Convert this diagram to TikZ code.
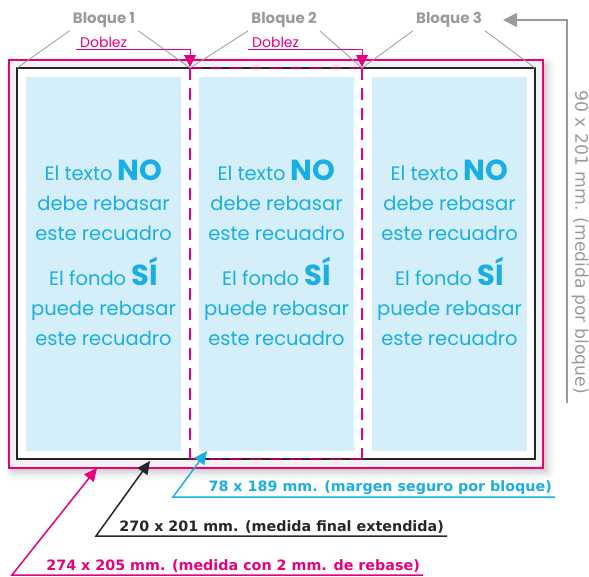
\documentclass[tikz,border=0pt]{standalone}
\usepackage{fontspec}
\setmainfont{DejaVu Sans}
\newfontfamily\redonda{Poppins}
\usetikzlibrary{arrows.meta,shadows.blur}

\definecolor{rosa}{HTML}{E6007E}
\definecolor{celeste}{HTML}{1AAEE6}
\definecolor{fondo}{HTML}{D4EEFA}
\definecolor{gris}{HTML}{9A9A9A}

\tikzstyle{bloque}=[font=\redonda\bfseries\fontsize{15}{15}\selectfont, text=gris, inner sep=3pt]
\tikzstyle{guia}=[draw=gris, line width=0.8pt]
\tikzstyle{doblez}=[font=\redonda\fontsize{14}{14}\selectfont, text=rosa, anchor=south west, inner xsep=4pt, inner ysep=1pt]
\tikzstyle{pliegue}=[draw=rosa, line width=1pt, -{Triangle[length=12pt,width=12pt]}]
\tikzstyle{aviso}=[font=\redonda\fontsize{19.5}{30}\selectfont, text=celeste, align=center, inner sep=0pt]
\tikzstyle{medida}=[font=\bfseries\fontsize{14.3}{14.3}\selectfont, anchor=south east, inner xsep=3pt, inner ysep=2pt]
\tikzstyle{cota}=[line width=1.5pt, -{Triangle[length=13pt,width=12pt]}]

\begin{document}
\begin{tikzpicture}[x=1pt,y=-1pt]
\useasboundingbox (0,0) rectangle (589,576);

% rebase y medida final
\draw[rosa, line width=1.2pt, fill=gray!10, blur shadow={shadow xshift=4pt, shadow yshift=-4pt, shadow blur radius=8pt, shadow opacity=25}] (9,60) rectangle (543,468);
\draw[black!85, line width=1.5pt, fill=white] (17,68) rectangle (535,459);

% margen seguro
\foreach \x/\n in {26/1,199/2,372/3} {
  \fill[fondo] (\x,77) rectangle ++(155,374);
  \node[aviso] (arriba\n) at (\x+77.5,200) {El texto {\bfseries\fontsize{29}{30}\selectfont NO}\\debe rebasar\\este recuadro};
  \node[aviso] (abajo\n) at (\x+77.5,301) {El fondo {\bfseries\fontsize{29}{30}\selectfont SÍ}\\puede rebasar\\este recuadro};
}

% bloque central
\draw[rosa, line width=2.5pt, dash pattern=on 12pt off 8pt] (190,68) -- (190,459);
\draw[rosa, line width=2.5pt, dash pattern=on 12pt off 8pt] (362,68) -- (362,459);
\draw[rosa!75!black, line width=2.5pt, dash pattern=on 12pt off 8pt] (190,68) -- (362,68);
\draw[rosa!75!black, line width=2.5pt, dash pattern=on 12pt off 8pt] (190,459) -- (362,459);

\coordinate (esq0) at (17,68);
\coordinate (esq1) at (190,68);
\coordinate (esq2) at (362,68);
\coordinate (esq3) at (535,68);

% bloques
\node[bloque] (b1) at (104,20) {Bloque 1};
\node[bloque] (b2) at (284,20) {Bloque 2};
\node[bloque] (b3) at (449,20) {Bloque 3};
\draw[guia] (b1.south west) -- (esq0) (b1.south east) -- (esq1);
\draw[guia] (b2.south west) -- (esq1) (b2.south east) -- (esq2);
\draw[guia] (b3.south west) -- (esq2) (b3.south east) -- (esq3);

% dobleces
\node[doblez] (d1) at (76,49) {Doblez};
\node[doblez] (d2) at (248,49) {Doblez};
\coordinate (p1) at (190,67);
\coordinate (p2) at (362,67);
\draw[pliegue] (d1.south west) -| (p1);
\draw[pliegue] (d2.south west) -| (p2);

% medida por bloque
\coordinate (alto) at (567,403);
\node (flecha) at (503,20) {};
\draw[draw=gris, line width=1.5pt, -{Triangle[length=14pt,width=14pt]}] (alto) |- (flecha.center);
\node[rotate=-90, text=gris, font=\fontsize{17.2}{17.2}\selectfont] (bloque) at (580,242) {90 x 201 mm. (medida por bloque)};

% medidas
\node[medida, text=celeste] (seguro) at (555,497) {78 x 189 mm. (margen seguro por bloque)};
\node[medida, text=black!85] (final) at (447,536) {270 x 201 mm. (medida final extendida)};
\node[medida, text=rosa] (rebase) at (423,575) {274 x 205 mm. (medida con 2 mm. de rebase)};
\coordinate (s1) at (173,497);
\coordinate (s2) at (207,451);
\coordinate (f1) at (96,536);
\coordinate (f2) at (150,461);
\coordinate (r1) at (12,575);
\coordinate (r2) at (97,468);
\draw[cota, celeste] (seguro.south east) -- (s1) -- (s2);
\draw[cota, black!85] (final.south east) -- (f1) -- (f2);
\draw[cota, rosa] (rebase.south east) -- (r1) -- (r2);

\end{tikzpicture}
\end{document}
